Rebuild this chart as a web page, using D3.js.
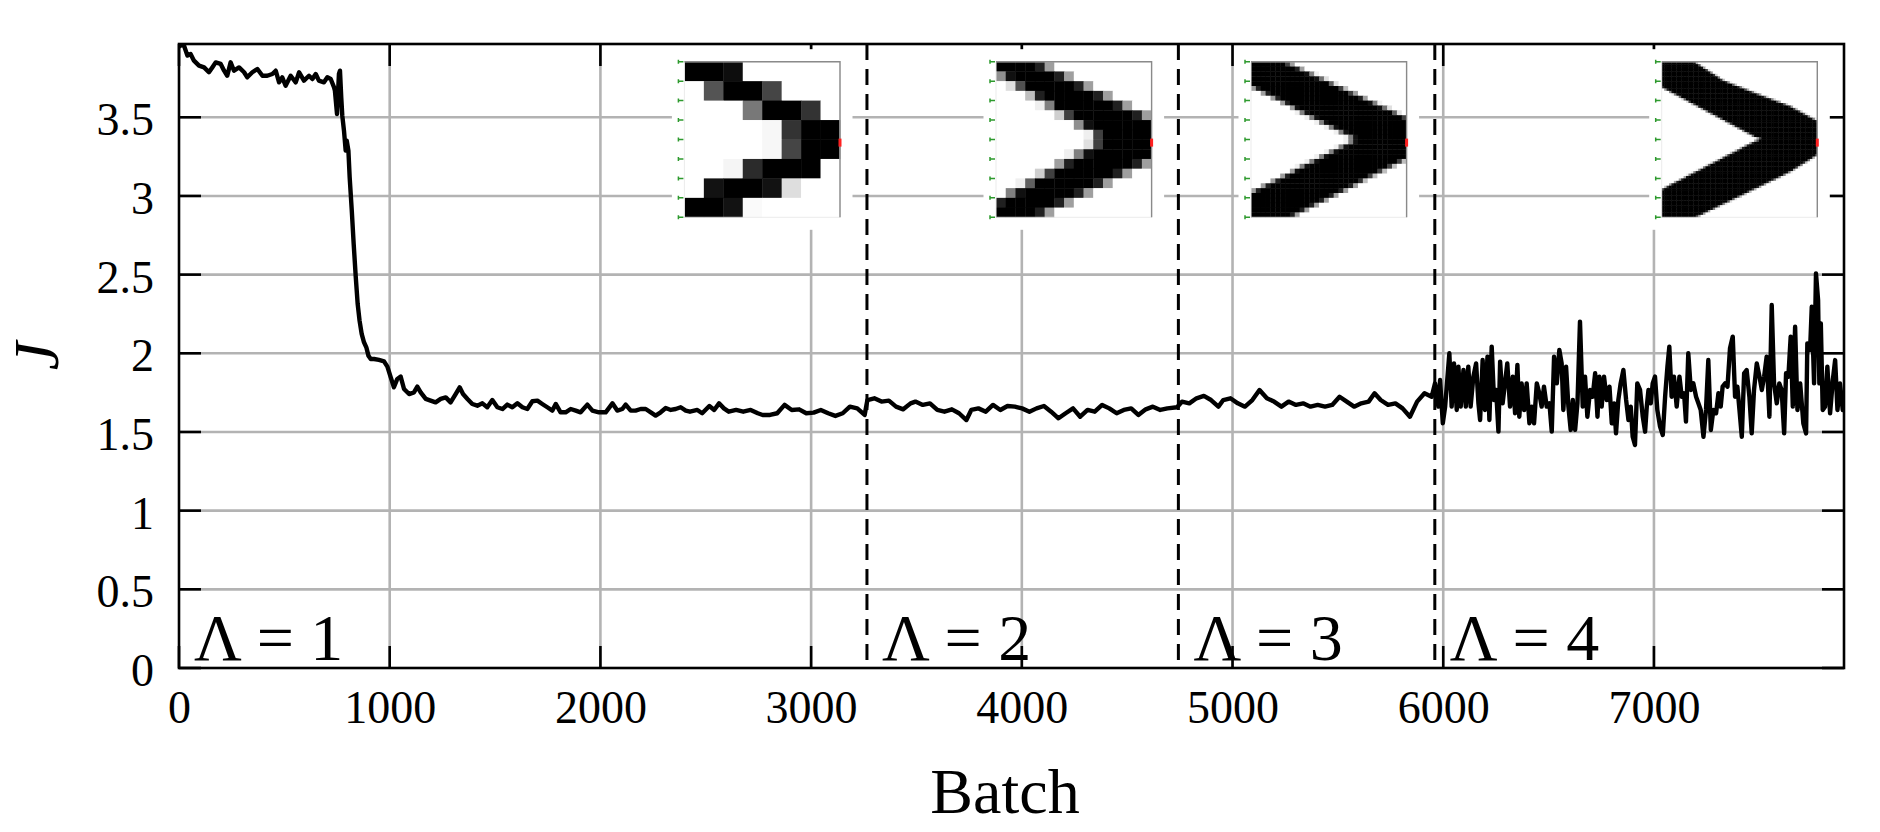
<!DOCTYPE html>
<html><head><meta charset="utf-8">
<script src="https://cdn.jsdelivr.net/npm/d3@7"></script>
<style>
body{margin:0;background:#fff}
svg{display:block}
text{font-family:"Liberation Serif","Times New Roman",serif;fill:#000}
</style>
</head><body>
<svg id="chart" width="1880" height="832"></svg>
<script>
// ---------------- data ----------------
const xTicks = [0,1000,2000,3000,4000,5000,6000,7000];
const xTickLabels = ["0","1000","2000","3000","4000","5000","6000","7000"];
const yTicks = [0,0.5,1,1.5,2,2.5,3,3.5];
const yTickLabels = ["0","0.5","1","1.5","2","2.5","3","3.5"];
const xMax = 7902, yMax = 3.9657;
const stageStarts = [0,3265,4743,5960];
const stageLabels = ["Λ = 1","Λ = 2","Λ = 3","Λ = 4"];

const stage1Batch = [0,16,24,40,55,71,95,119,142,158,174,198,214,229,245,261,285,309,324,348,372,396,419,443,459,475,490,506,530,554,570,593,617,633,649,664,688,704,720,736,740,750,759,764,770,775,783,791,796,804,810,820,829,839,848,857,867,878,889,899,910,926,949,973,989,1005,1020,1036,1052,1068,1092,1115,1131,1147,1171,1194,1218,1242,1266,1289,1313,1332,1348,1369,1392,1416,1440,1463,1487,1511,1535,1558,1582,1606,1630,1653,1677,1701,1724,1748,1772,1788,1811,1835,1859,1883,1906,1938,1962,1993,2025,2057,2080,2104,2120,2144,2167,2191,2215,2239,2262,2286,2310,2334,2357,2381,2405,2425,2460,2483,2517,2540,2563,2586,2609,2644,2678,2713,2747,2770,2805,2839,2874,2908,2943,2977,3012,3046,3081,3115,3150,3184,3219,3254];
const stage1J = [3.950,3.962,3.955,3.892,3.902,3.860,3.828,3.817,3.786,3.817,3.849,3.839,3.796,3.764,3.849,3.796,3.817,3.786,3.754,3.786,3.807,3.764,3.764,3.775,3.796,3.722,3.754,3.701,3.764,3.722,3.786,3.733,3.764,3.743,3.775,3.733,3.722,3.754,3.743,3.690,3.669,3.521,3.775,3.796,3.627,3.510,3.415,3.288,3.351,3.288,3.118,2.907,2.695,2.483,2.313,2.207,2.123,2.070,2.038,1.985,1.964,1.964,1.958,1.949,1.915,1.847,1.784,1.837,1.852,1.773,1.741,1.752,1.788,1.752,1.710,1.699,1.688,1.710,1.720,1.688,1.741,1.784,1.741,1.710,1.678,1.667,1.682,1.657,1.703,1.657,1.646,1.674,1.657,1.682,1.657,1.646,1.695,1.699,1.678,1.657,1.636,1.678,1.625,1.625,1.646,1.636,1.625,1.674,1.636,1.625,1.625,1.682,1.636,1.646,1.674,1.636,1.636,1.646,1.646,1.625,1.604,1.625,1.652,1.640,1.646,1.657,1.636,1.629,1.640,1.619,1.665,1.640,1.682,1.650,1.629,1.640,1.629,1.640,1.619,1.608,1.608,1.619,1.672,1.640,1.644,1.619,1.623,1.640,1.619,1.602,1.619,1.661,1.650,1.608];

const stage2Batch = [3267,3300,3334,3369,3403,3437,3472,3495,3530,3564,3599,3633,3668,3702,3737,3760,3794,3829,3863,3898,3932,3967,4001,4036,4070,4105,4139,4174,4208,4243,4277,4312,4346,4381,4415,4450,4484,4519,4553,4588,4622,4657,4691,4737];
const stage2J = [1.703,1.714,1.693,1.699,1.661,1.644,1.682,1.693,1.672,1.682,1.640,1.629,1.644,1.619,1.576,1.640,1.650,1.629,1.672,1.640,1.665,1.661,1.650,1.629,1.650,1.665,1.629,1.587,1.619,1.650,1.597,1.640,1.629,1.672,1.650,1.619,1.640,1.650,1.608,1.644,1.661,1.640,1.650,1.657];

const stage3Batch = [4760,4795,4829,4864,4898,4933,4956,4990,5025,5059,5094,5128,5163,5197,5232,5266,5301,5335,5370,5404,5439,5473,5508,5542,5577,5611,5646,5674,5703,5738,5773,5807,5842,5876,5911,5945];
const stage3J = [1.693,1.682,1.714,1.729,1.703,1.661,1.703,1.714,1.682,1.661,1.703,1.767,1.714,1.693,1.661,1.693,1.672,1.682,1.661,1.672,1.661,1.672,1.724,1.693,1.661,1.682,1.693,1.746,1.703,1.672,1.682,1.650,1.597,1.693,1.746,1.724];

const stage4Batch = [5961,5977,5985,5998,6009,6029,6040,6051,6064,6072,6083,6096,6107,6119,6130,6143,6156,6167,6175,6187,6198,6210,6219,6230,6241,6251,6262,6270,6282,6293,6304,6317,6330,6341,6352,6361,6372,6384,6396,6409,6420,6431,6444,6456,6467,6478,6491,6504,6515,6526,6539,6551,6562,6570,6583,6594,6605,6615,6626,6637,6649,6662,6673,6684,6697,6709,6721,6732,6741,6752,6763,6776,6789,6800,6811,6820,6831,6842,6855,6868,6879,6890,6899,6910,6921,6934,6947,6958,6966,6974,6985,6994,7005,7016,7029,7042,7053,7064,7073,7084,7095,7108,7121,7132,7143,7152,7163,7175,7187,7200,7211,7222,7235,7247,7258,7270,7282,7295,7306,7317,7326,7338,7349,7361,7374,7385,7396,7406,7417,7428,7440,7453,7464,7475,7488,7501,7512,7523,7535,7548,7559,7570,7583,7595,7606,7618,7627,7638,7649,7659,7670,7681,7694,7709,7722,7728,7741,7749,7760,7769,7779,7785,7792,7801,7812,7823,7836,7849,7860,7871,7883,7896,7902];
const stage4J = [1.809,1.661,1.830,1.555,1.661,2.000,1.661,1.936,1.640,1.915,1.661,1.894,1.661,1.915,1.661,1.852,1.936,1.682,1.576,1.957,1.640,1.979,1.576,2.042,1.703,1.767,1.502,1.947,1.682,1.809,1.936,1.661,1.852,1.619,1.926,1.597,1.809,1.640,1.809,1.555,1.661,1.555,1.809,1.746,1.661,1.788,1.661,1.682,1.502,1.979,1.809,2.021,1.936,1.640,1.915,1.661,1.513,1.703,1.513,1.682,2.201,1.661,1.852,1.597,1.767,1.724,1.873,1.597,1.852,1.661,1.852,1.703,1.788,1.555,1.682,1.491,1.703,1.809,1.894,1.703,1.576,1.661,1.470,1.417,1.809,1.767,1.597,1.502,1.661,1.767,1.682,1.809,1.852,1.640,1.534,1.481,1.724,1.915,2.042,1.724,1.852,1.661,1.852,1.724,1.746,1.566,2.000,1.767,1.809,1.724,1.682,1.640,1.470,1.640,1.957,1.513,1.640,1.619,1.746,1.661,1.788,1.809,1.788,2.032,2.106,1.724,1.788,1.640,1.470,1.873,1.894,1.724,1.491,1.767,1.936,1.852,1.767,1.852,1.979,1.597,2.307,1.809,1.682,1.809,1.767,1.491,1.873,1.852,2.106,1.661,2.169,1.640,1.809,1.555,1.491,2.063,2.021,2.296,1.809,2.508,2.339,1.809,2.190,1.640,1.661,1.915,1.619,1.830,1.957,1.640,1.809,1.640,1.724];

// inset 1: 8x8 pixel intensities (1 = black)
const inset1Pixels = [
  [1,1,0.95,0,0,0,0,0],
  [0,0.67,1,1,0.73,0,0,0],
  [0,0,0,0.53,1,1,0.8,0],
  [0,0,0,0,0.03,0.8,1,1],
  [0,0,0,0,0.03,0.73,1,1],
  [0,0,0.04,0.83,1,1,1,0],
  [0,0.93,1,1,0.93,0.13,0,0],
  [1,1,0.93,0.02,0,0,0,0]
];
// insets 2-4: chevron outlines (unit square, x right, y down)
const inset2Shape = [[0,0],[0.27,0],[1,0.365],[1,0.635],[0.27,1],[0,1],[0,0.9],[0.66,0.52],[0.66,0.48],[0,0.07]];
const inset3Shape = [[0,0],[0.22,0],[1,0.36],[1,0.625],[0.26,1],[0,1],[0,0.84],[0.67,0.5],[0,0.16]];
const inset4Shape = [[0,0],[0.21,0],[0.396,0.12],[0.61,0.205],[0.824,0.285],[0.953,0.355],[1,0.38],[1,0.6],[0.824,0.71],[0.503,0.865],[0.22,1],[0,1],[0,0.82],[0.6,0.51],[0.64,0.497],[0.6,0.485],[0,0.165]];
const insetResolutions = [8,16,32,64];

// ---------------- layout ----------------
const W = 1880, H = 832;
const L = 179, R = 1844, T = 44, B = 668;
const svg = d3.select("#chart");
svg.append("rect").attr("width",W).attr("height",H).attr("fill","#fff");

const x = d3.scaleLinear().domain([0,xMax]).range([L,R]);
const y = d3.scaleLinear().domain([0,yMax]).range([B,T]);

const grid = "#b3b3b3", gw = 2.6, tickLen = 22;

// gridlines
svg.append("g").selectAll("line").data(xTicks.filter(d=>d>0)).join("line")
  .attr("x1",d=>x(d)).attr("x2",d=>x(d)).attr("y1",T).attr("y2",B)
  .attr("stroke",grid).attr("stroke-width",gw);
svg.append("g").selectAll("line").data(yTicks.filter(d=>d>0)).join("line")
  .attr("x1",L).attr("x2",R).attr("y1",d=>y(d)).attr("y2",d=>y(d))
  .attr("stroke",grid).attr("stroke-width",gw);

// inner ticks on four sides
const tk = svg.append("g").attr("stroke","#000").attr("stroke-width",2.6);
xTicks.forEach(d=>{
  tk.append("line").attr("x1",x(d)).attr("x2",x(d)).attr("y1",B).attr("y2",B-tickLen);
  tk.append("line").attr("x1",x(d)).attr("x2",x(d)).attr("y1",T).attr("y2",T+tickLen);
});
yTicks.forEach(d=>{
  tk.append("line").attr("x1",L).attr("x2",L+tickLen).attr("y1",y(d)).attr("y2",y(d));
  tk.append("line").attr("x1",R).attr("x2",R-tickLen).attr("y1",y(d)).attr("y2",y(d));
});

// insets
const insetLefts = [684.4, 996, 1251, 1661.7];
const insetTop = 61.7, insetSize = 155.6, pad = 12.5;

function rasterize(poly, n){
  const cells = [];
  const ss = 4;
  for(let j=0;j<n;j++) for(let i=0;i<n;i++){
    let c = 0;
    for(let a=0;a<ss;a++) for(let b=0;b<ss;b++){
      const px = (i + (a+0.5)/ss)/n, py = (j + (b+0.5)/ss)/n;
      if(d3.polygonContains(poly,[px,py])) c++;
    }
    cells.push({i,j,v:c/(ss*ss)});
  }
  return cells;
}
const insetCells = [
  inset1Pixels.flatMap((row,j)=>row.map((v,i)=>({i,j,v}))),
  rasterize(inset2Shape,16),
  rasterize(inset3Shape,32),
  rasterize(inset4Shape,64)
];
const grey = d3.interpolateRgb("#ffffff","#000000");

insetLefts.forEach((lx,k)=>{
  const g = svg.append("g");
  g.append("rect").attr("x",lx-pad).attr("y",insetTop-pad)
    .attr("width",insetSize+2*pad).attr("height",insetSize+2*pad).attr("fill","#fff");
  const n = insetResolutions[k];
  const bx = d3.scaleBand().domain(d3.range(n)).range([lx,lx+insetSize]);
  const by = d3.scaleBand().domain(d3.range(n)).range([insetTop,insetTop+insetSize]);
  g.append("g").selectAll("rect").data(insetCells[k]).join("rect")
    .attr("x",d=>bx(d.i)).attr("y",d=>by(d.j))
    .attr("width",bx.bandwidth()+0.4).attr("height",by.bandwidth()+0.4)
    .attr("fill",d=>grey(d.v));
  // faint frame + darker top/right edges
  g.append("rect").attr("x",lx).attr("y",insetTop).attr("width",insetSize).attr("height",insetSize)
    .attr("fill","none").attr("stroke","#ececec").attr("stroke-width",1);
  g.append("path").attr("d",`M${lx},${insetTop}H${lx+insetSize}V${insetTop+insetSize}`)
    .attr("fill","none").attr("stroke","#8a8a8a").attr("stroke-width",1.4);
  // green axis marks on the left
  d3.range(9).forEach(m=>{
    const yy = insetTop + m*insetSize/8;
    g.append("path").attr("d",`M${lx-6},${yy-2}V${yy+2}M${lx-6},${yy}H${lx-1}`)
      .attr("fill","none").attr("stroke","#2e9a2e").attr("stroke-width",1.5);
  });
  // red mark at right middle
  g.append("rect").attr("x",lx+insetSize-1.5).attr("y",insetTop+insetSize*0.52-4)
    .attr("width",3).attr("height",8).attr("fill","#ff2020");
});

// stage boundary dashed lines
svg.append("g").selectAll("line").data(stageStarts.slice(1)).join("line")
  .attr("x1",d=>x(d)).attr("x2",d=>x(d)).attr("y1",T).attr("y2",B)
  .attr("stroke","#000").attr("stroke-width",3).attr("stroke-dasharray","16,9");

// curve
const batch = [].concat(stage1Batch,stage2Batch,stage3Batch,stage4Batch);
const J = [].concat(stage1J,stage2J,stage3J,stage4J);
const pts = batch.map((b,i)=>[b,J[i]]);
svg.append("clipPath").attr("id","clip").append("rect")
  .attr("x",L).attr("y",T).attr("width",R-L).attr("height",B-T);
svg.append("path").datum(pts)
  .attr("clip-path","url(#clip)")
  .attr("d",d3.line().x(d=>x(d[0])).y(d=>y(d[1])))
  .attr("fill","none").attr("stroke","#000").attr("stroke-width",4.4)
  .attr("stroke-linejoin","round").attr("stroke-linecap","round");

// frame
svg.append("rect").attr("x",L).attr("y",T).attr("width",R-L).attr("height",B-T)
  .attr("fill","none").attr("stroke","#000").attr("stroke-width",2.6);

// tick labels via axes
const xAxis = d3.axisBottom(x).tickValues(xTicks).tickFormat((d,i)=>xTickLabels[i]).tickSize(0).tickPadding(0);
const gx = svg.append("g").attr("transform",`translate(0,${B})`).call(xAxis);
gx.select(".domain").remove();
gx.selectAll("text").attr("y",55).attr("dy",null)
  .style("font-family",'"Liberation Serif","Times New Roman",serif').style("font-size","46px").attr("fill","#000");

const yAxis = d3.axisLeft(y).tickValues(yTicks).tickFormat((d,i)=>yTickLabels[i]).tickSize(0).tickPadding(25);
const gy = svg.append("g").attr("transform",`translate(${L},0)`).call(yAxis);
gy.select(".domain").remove();
gy.selectAll("text").attr("dy","0.38em")
  .style("font-family",'"Liberation Serif","Times New Roman",serif').style("font-size","46px").attr("fill","#000");

// stage labels
svg.append("g").selectAll("text").data(stageStarts).join("text")
  .attr("x",d=>x(d)+15).attr("y",660)
  .style("font-size","66px")
  .text((d,i)=>stageLabels[i]);

// axis titles
svg.append("text").attr("x",1005).attr("y",813).attr("text-anchor","middle")
  .style("font-size","64px").text("Batch");
svg.append("text").attr("transform","translate(58,356) rotate(-90)").attr("text-anchor","middle")
  .style("font-size","64px").style("font-style","italic").text("J");
</script>
</body></html>
